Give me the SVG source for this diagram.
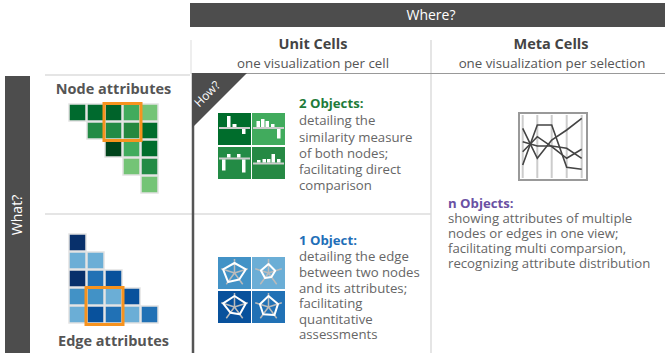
<svg xmlns="http://www.w3.org/2000/svg" width="665" height="353" viewBox="0 0 665 353">
<style>
text{font-family:"Open Sans","Noto Sans","Liberation Sans",sans-serif}
.hdr{font-size:14.5px;font-weight:bold;fill:#444;text-anchor:middle}
.sub{font-size:13.3px;fill:#555;text-anchor:middle}
.lbl{font-size:14.5px;font-weight:bold;fill:#555;text-anchor:middle}
.body{font-size:13.2px;fill:#666}
.wt{font-size:14px;fill:#fff;text-anchor:middle}
.c{stroke:#e2e2e2;stroke-width:1.5}
.hl{fill:none;stroke:#f7931e;stroke-width:3}
.base{stroke:#ccc;stroke-width:2}
.bar{fill:#fff}
.spoke{stroke:#bbb;stroke-width:1.5;fill:none}
.poly{stroke:#fff;stroke-width:2;fill:none;stroke-linejoin:round}
.pc{fill:none;stroke:#444;stroke-width:1.6}
</style>

<g id="frame">
<rect x="190" y="3" width="475" height="24" fill="#4d4d4d"/>
<text class="wt" x="431" y="20">Where?</text>
<rect x="5" y="76" width="25" height="277" fill="#4d4d4d"/>
<text class="wt" transform="translate(22,215) rotate(-90)">What?</text>
<line x1="191" y1="40" x2="191" y2="74" stroke="#ddd" stroke-width="1"/>
<line x1="431" y1="40" x2="431" y2="353" stroke="#ddd" stroke-width="1.5"/>
<line x1="45" y1="75" x2="190" y2="75" stroke="#ddd" stroke-width="1.5"/>
<line x1="192" y1="73.5" x2="665" y2="73.5" stroke="#999" stroke-width="1"/>
<line x1="45" y1="214" x2="431" y2="214" stroke="#ddd" stroke-width="1.5"/>
<line x1="193" y1="73" x2="193" y2="353" stroke="#555" stroke-width="2.5"/>
<polygon points="192,73 247,73 192,128" fill="#4d4d4d"/>
<text class="wt" style="font-size:12px" transform="translate(210,97) rotate(-45)">How?</text>
</g>

<g id="header-unit">
<text class="hdr" x="313" y="49">Unit Cells</text>
<text class="sub" x="313" y="68">one visualization per cell</text>
</g>
<g id="header-meta">
<text class="hdr" x="551" y="49">Meta Cells</text>
<text class="sub" x="552" y="68">one visualization per selection</text>
</g>

<g id="node-attributes">
<text class="lbl" x="113.5" y="94">Node attributes</text>
<rect class="c" x="69" y="104" width="17" height="17" fill="#006a2e"/>
<rect class="c" x="87" y="104" width="17" height="17" fill="#006a2e"/>
<rect class="c" x="105" y="104" width="17" height="17" fill="#00632a"/>
<rect class="c" x="123" y="104" width="17" height="17" fill="#41ab5d"/>
<rect class="c" x="141" y="104" width="17" height="17" fill="#74c476"/>
<rect class="c" x="87" y="122" width="17" height="17" fill="#238b45"/>
<rect class="c" x="105" y="122" width="17" height="17" fill="#238b45"/>
<rect class="c" x="123" y="122" width="17" height="17" fill="#25883f"/>
<rect class="c" x="141" y="122" width="17" height="17" fill="#006d2c"/>
<rect class="c" x="105" y="140" width="17" height="17" fill="#00441b"/>
<rect class="c" x="123" y="140" width="17" height="17" fill="#41ab5d"/>
<rect class="c" x="141" y="140" width="17" height="17" fill="#006d2c"/>
<rect class="c" x="123" y="158" width="17" height="17" fill="#74c476"/>
<rect class="c" x="141" y="158" width="17" height="17" fill="#238b45"/>
<rect class="c" x="141" y="176" width="17" height="17" fill="#74c476"/>
<rect class="hl" x="104" y="103.5" width="37" height="37"/>
</g>

<g id="edge-attributes">
<rect class="c" x="69" y="234" width="17" height="17" fill="#08306b"/>
<rect class="c" x="69" y="252" width="17" height="17" fill="#6baed6"/>
<rect class="c" x="87" y="252" width="17" height="17" fill="#6baed6"/>
<rect class="c" x="69" y="270" width="17" height="17" fill="#08306b"/>
<rect class="c" x="87" y="270" width="17" height="17" fill="#2171b5"/>
<rect class="c" x="105" y="270" width="17" height="17" fill="#08519c"/>
<rect class="c" x="69" y="288" width="17" height="17" fill="#4292c6"/>
<rect class="c" x="87" y="288" width="17" height="17" fill="#4292c6"/>
<rect class="c" x="105" y="288" width="17" height="17" fill="#6baed6"/>
<rect class="c" x="123" y="288" width="17" height="17" fill="#08519c"/>
<rect class="c" x="69" y="306" width="17" height="17" fill="#6baed6"/>
<rect class="c" x="87" y="306" width="17" height="17" fill="#08519c"/>
<rect class="c" x="105" y="306" width="17" height="17" fill="#2171b5"/>
<rect class="c" x="123" y="306" width="17" height="17" fill="#6baed6"/>
<rect class="c" x="141" y="306" width="17" height="17" fill="#2171b5"/>
<rect class="hl" x="86" y="287.5" width="37" height="37"/>
<text class="lbl" x="113.5" y="346">Edge attributes</text>
</g>

<g id="unit-node-cell">
<rect x="218" y="113" width="33" height="32" fill="#006d2c"/>
<rect x="252" y="113" width="33" height="32" fill="#41ab5d"/>
<rect x="218" y="147" width="33" height="32" fill="#238b45"/>
<rect x="252" y="147" width="33" height="32" fill="#268944"/>
<line class="base" x1="219" y1="128" x2="250" y2="128"/>
<rect class="bar" x="227" y="116" width="3.5" height="11"/>
<rect class="bar" x="232.5" y="124" width="4" height="3"/>
<rect class="bar" x="242" y="129" width="3.5" height="5"/>
<line class="base" x1="253" y1="128" x2="284" y2="128"/>
<rect class="bar" x="256.5" y="121" width="3.5" height="6"/>
<rect class="bar" x="261" y="119" width="3.5" height="8"/>
<rect class="bar" x="265.5" y="121" width="3.5" height="6"/>
<rect class="bar" x="271" y="124" width="3.5" height="3"/>
<rect class="bar" x="277" y="129" width="3.5" height="9.5"/>
<line class="base" x1="219" y1="158.5" x2="250" y2="158.5"/>
<rect class="bar" x="222" y="159.5" width="3.5" height="11"/>
<rect class="bar" x="227" y="154" width="3.5" height="3.5"/>
<rect class="bar" x="237" y="154" width="3.5" height="3.5"/>
<rect class="bar" x="242" y="159.5" width="3.5" height="13"/>
<line class="base" x1="253" y1="163.5" x2="284" y2="163.5"/>
<rect class="bar" x="257" y="160" width="3.5" height="2.5"/>
<rect class="bar" x="262.5" y="159" width="3.5" height="3.5"/>
<rect class="bar" x="267" y="159" width="3.5" height="3.5"/>
<rect class="bar" x="271.5" y="154" width="3.5" height="8.5"/>
<rect class="bar" x="277" y="159" width="3.5" height="3.5"/>
<text class="body" x="299" y="108"><tspan style="fill:#1e7b3a;font-weight:bold">2 Objects:</tspan><tspan x="299" y="125">detailing the</tspan><tspan x="299" y="141.5">similarity measure</tspan><tspan x="299" y="158">of both nodes;</tspan><tspan x="299" y="174">facilitating direct</tspan><tspan x="299" y="190">comparison</tspan></text>
</g>

<g id="unit-edge-cell">
<rect x="218" y="257" width="33" height="32" fill="#4292c6"/>
<rect x="252" y="257" width="33" height="32" fill="#6baed6"/>
<rect x="218" y="291" width="33" height="32" fill="#08519c"/>
<rect x="252" y="291" width="33" height="32" fill="#2171b5"/>
<g transform="translate(234.5,273)">
<path class="spoke" d="M0,0V-14M0,0L13.3,-4.3M0,0L8.2,11.3M0,0L-8.2,11.3M0,0L-13.3,-4.3"/>
<polygon class="poly" points="0,-10 11.4,-3.7 4.7,6.5 -6.5,8.9 -11.4,-3.7"/>
</g>
<g transform="translate(268.5,273)">
<path class="spoke" d="M0,0V-14M0,0L13.3,-4.3M0,0L8.2,11.3M0,0L-8.2,11.3M0,0L-13.3,-4.3"/>
<polygon class="poly" points="0,-9 6.7,-2.2 2.9,4 -3.5,4.9 -7.6,-2.5"/>
</g>
<g transform="translate(234.5,307)">
<path class="spoke" d="M0,0V-14M0,0L13.3,-4.3M0,0L8.2,11.3M0,0L-8.2,11.3M0,0L-13.3,-4.3"/>
<polygon class="poly" points="0,-11 11.4,-3.7 5.3,7.3 -4.1,5.7 -11.4,-3.7"/>
</g>
<g transform="translate(268.5,307)">
<path class="spoke" d="M0,0V-14M0,0L13.3,-4.3M0,0L8.2,11.3M0,0L-8.2,11.3M0,0L-13.3,-4.3"/>
<polygon class="poly" points="0,-11 9.5,-3.1 5.9,8.1 -5.3,7.3 -8.6,-2.8"/>
</g>
<text class="body" x="299" y="245"><tspan style="fill:#1f6fb8;font-weight:bold">1 Object:</tspan><tspan x="299" y="261">detailing the edge</tspan><tspan x="299" y="277">between two nodes</tspan><tspan x="299" y="292.5">and its attributes;</tspan><tspan x="299" y="308">facilitating</tspan><tspan x="299" y="323.5">quantitative</tspan><tspan x="299" y="339">assessments</tspan></text>
</g>

<g id="meta-cell">
<rect x="519" y="113" width="68" height="67" fill="#fff" stroke="#999" stroke-width="2"/>
<g stroke="#ccc" stroke-width="2">
<line x1="522.7" y1="115" x2="522.7" y2="178"/>
<line x1="537.3" y1="115" x2="537.3" y2="178"/>
<line x1="551.7" y1="115" x2="551.7" y2="178"/>
<line x1="566.7" y1="115" x2="566.7" y2="178"/>
<line x1="581.7" y1="115" x2="581.7" y2="178"/>
</g>
<polyline class="pc" points="522.7,165 537.3,125 551.7,125 566.7,167.3 581.7,169.3"/>
<polyline class="pc" points="522.7,128.3 537.3,158.3 551.7,140 566.7,130 581.7,118.3"/>
<polyline class="pc" points="522.7,151.7 537.3,136.7 551.7,146.7 566.7,158.3 581.7,149.3"/>
<polyline class="pc" points="522.7,141.7 537.3,146 551.7,146 566.7,148.3 581.7,158.3"/>
<text class="body" x="448" y="208"><tspan style="fill:#6a51a3;font-weight:bold">n Objects:</tspan><tspan x="448" y="223">showing attributes of multiple</tspan><tspan x="448" y="238">nodes or edges in one view;</tspan><tspan x="448" y="253">facilitating multi comparsion,</tspan><tspan x="448" y="268">recognizing attribute distribution</tspan></text>
</g>
</svg>
